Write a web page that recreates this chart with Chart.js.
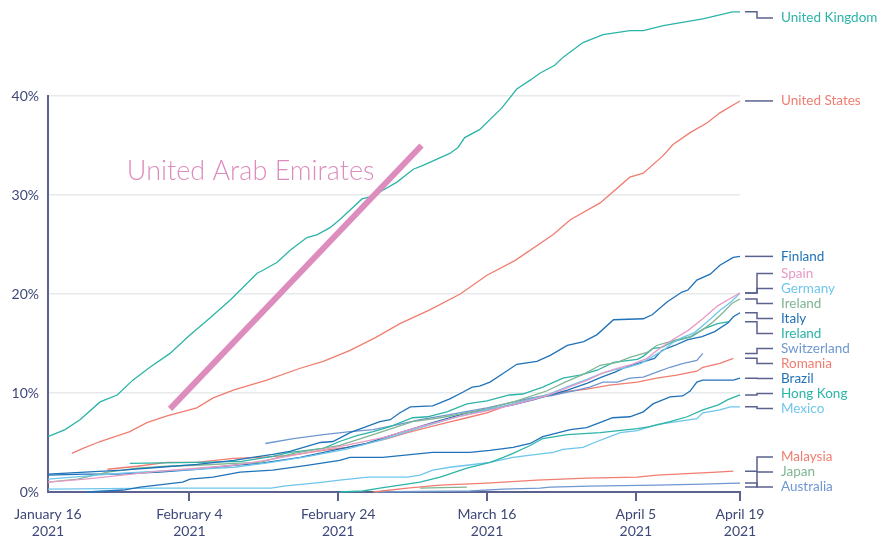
<!DOCTYPE html>
<html>
<head>
<meta charset="utf-8">
<script src="https://cdn.jsdelivr.net/npm/chart.js@4.4.1/dist/chart.umd.min.js"></script>
<style>
    html, body { margin: 0; padding: 0; background: #ffffff; }
    #wrap { width: 888px; height: 541px; position: relative; }
</style>
</head>
<body>
<div id="wrap"><canvas id="chart"></canvas></div>
<script>
// x is days since January 16 2021, y is percent of population
const tickDays = [0, 19, 39, 59, 79, 93];
const tickLabels = ['January 16', 'February 4', 'February 24', 'March 16', 'April 5', 'April 19'];
const tickYear = '2021';

const unitedKingdom = [[0,5.6],[2.3,6.3],[4.3,7.3],[7,9.1],[9.3,9.8],[11.4,11.3],[13.7,12.6],[16.4,14.0],[19,15.8],[21.8,17.6],[24.5,19.4],[28.1,22.1],[28.9,22.4],[30.8,23.2],[32.5,24.4],[34.8,25.7],[36.2,26.0],[37.9,26.7],[39.2,27.5],[42.2,29.6],[43.3,29.8],[44.6,30.3],[46.9,31.3],[49.1,32.6],[50.4,33.0],[54,34.2],[55.1,34.8],[56,35.8],[58,36.6],[61,38.8],[63,40.7],[64.8,41.6],[66.1,42.3],[68.1,43.1],[69.2,43.9],[71.9,45.4],[74.6,46.2],[78.2,46.6],[80,46.6],[82.7,47.1],[88,47.8],[92,48.5],[93,48.5]];
const unitedStates = [[3.2,3.9],[4.7,4.4],[7,5.1],[11,6.1],[13.3,7.0],[16,7.7],[20,8.5],[22.2,9.5],[24.9,10.3],[29.4,11.3],[33.9,12.5],[37,13.2],[40.6,14.3],[44,15.6],[47.3,17.0],[51.3,18.4],[55.4,20.0],[59,21.9],[62.8,23.4],[67.9,26.0],[70.2,27.5],[74.2,29.2],[78.2,31.8],[80,32.2],[82.7,34.0],[84,35.1],[86.3,36.3],[88.6,37.3],[90.3,38.3],[93,39.5]];
const finland = [[0,1.8],[5,2.0],[10,2.2],[15,2.5],[20,2.8],[25,3.2],[27.5,3.5],[30.2,3.8],[32.5,4.1],[34.8,4.6],[36.6,5.0],[38.3,5.1],[40.6,6.0],[44.6,7.1],[46,7.3],[47.3,8.0],[48.7,8.6],[51.7,8.7],[54,9.4],[55.8,10.1],[57,10.6],[58,10.7],[59.4,11.1],[61.2,12.0],[63,12.9],[65.7,13.2],[67.5,13.8],[69.8,14.8],[72,15.2],[73.8,15.9],[76,17.4],[80,17.5],[81.2,17.9],[83.2,19.2],[85.2,20.2],[86,20.4],[87.2,21.4],[89,22.0],[90.3,22.9],[92.1,23.7],[93,23.8]];
const spain = [[0,1.0],[5,1.3],[10,1.7],[15,2.1],[20,2.4],[25,2.7],[30,3.3],[35,4.0],[40,4.7],[45,5.5],[50,6.6],[55,7.6],[59,8.2],[63,8.9],[67,9.7],[70,10.6],[72.5,11.3],[74.5,12.0],[76.5,12.5],[78.5,12.9],[80.5,13.5],[82,14.4],[84,15.4],[86,16.3],[88,17.5],[90,18.8],[91.8,19.6],[93,20.1]];
const germany = [[0,1.3],[5,1.6],[10,1.9],[15,2.1],[20,2.3],[25,2.5],[30,3.0],[35,3.6],[40,4.3],[45,5.3],[50,6.5],[55,7.6],[59,8.3],[63,9.0],[67,9.8],[70,10.7],[72.5,11.4],[74.5,12.0],[76.5,12.4],[77.9,12.6],[79.7,13.0],[81.3,13.7],[82.7,14.3],[83.8,15.0],[85.2,15.6],[86.9,16.1],[88.6,17.2],[90.4,18.4],[91.8,19.2],[93,20.1]];
const irelandGreen = [[0,1.0],[4,1.3],[8,2.0],[12,2.4],[16,2.6],[20,2.7],[25,2.9],[28.5,3.0],[33,3.9],[39.2,4.7],[43.7,5.8],[49,7.1],[52.7,7.5],[57,8.1],[59,8.4],[63,9.2],[67,10.2],[69.5,11.1],[72,11.9],[74.2,12.8],[76.5,13.1],[78.2,13.6],[80.5,14.1],[81.8,14.8],[84.5,15.4],[86.3,15.7],[88,16.4],[89.4,17.2],[90.7,18.1],[92,19.1],[93,19.5]];
const italy = [[0,1.7],[5,1.8],[9.3,1.8],[15,2.0],[20,2.3],[25,2.7],[28.5,2.9],[33.9,3.5],[38.3,4.2],[42.8,4.9],[47.3,6.0],[51.7,7.0],[56.3,8.0],[59,8.3],[62.5,8.8],[65.2,9.3],[69.8,10.3],[72.5,11.0],[74.4,11.6],[76.2,12.1],[77.9,12.7],[79.3,13.0],[81.5,13.5],[82.5,14.3],[84.2,14.8],[86,15.4],[87.9,15.7],[89.6,16.2],[91.4,17.1],[92.1,17.7],[93,18.1]];
const irelandTeal = [[11,2.9],[20,3.0],[26,3.1],[30.2,3.6],[32.5,4.0],[34.8,4.2],[37,4.4],[39.2,5.1],[41.5,5.7],[43.7,6.1],[46,6.6],[49,7.5],[51,7.6],[53.6,8.1],[56.3,8.9],[59,9.2],[62,9.8],[63.8,9.9],[66.5,10.6],[69.2,11.5],[71.5,11.8],[73.8,12.3],[76,13.1],[79.2,13.4],[80,13.7],[81.3,14.5],[82.5,14.6],[84,15.2],[86.5,15.7],[88.2,16.5],[90,17.0],[91.5,17.2]];
const switzerland = [[29.2,4.9],[33,5.4],[37,5.8],[40.6,6.1],[43.7,6.3],[47,6.8],[50,7.3],[53,7.7],[56,8.1],[59,8.5],[62,9.0],[65,9.5],[67.5,9.7],[69.2,10.0],[71.1,10.3],[72.8,10.6],[74.6,11.1],[76.5,11.1],[78.2,11.5],[80,11.6],[81.8,12.1],[83.6,12.6],[85.4,13.0],[87.2,13.3],[88,14.0]];
const romania = [[8,2.3],[12,2.6],[16,3.0],[20,3.0],[24.9,3.4],[28.5,3.5],[32.5,3.7],[37,4.2],[40.2,4.5],[42.8,4.9],[45.6,5.4],[48.3,6.0],[50.9,6.5],[53.6,7.0],[56.3,7.5],[59,8.0],[61.2,8.6],[65.7,9.6],[69.2,10.1],[72.4,10.4],[75.5,10.8],[79.2,11.1],[81.8,11.5],[84.5,11.8],[87.2,12.2],[88,12.6],[90.3,13.0],[92.1,13.5]];
const brazil = [[5.2,0],[10.1,0.2],[12.4,0.5],[18.1,1.0],[19.1,1.3],[22.2,1.5],[25.8,2.0],[30.2,2.2],[34.8,2.7],[39.2,3.2],[40.6,3.5],[45,3.5],[49,3.8],[51.7,4.0],[56.7,4.0],[59.4,4.2],[62.5,4.5],[64.8,4.9],[66.5,5.6],[70.2,6.3],[72.4,6.5],[73.8,6.9],[75.9,7.5],[78.2,7.6],[80,8.1],[81.3,8.9],[83.6,9.6],[85.3,9.7],[86.3,10.2],[87.2,11.1],[88,11.3],[92.1,11.3],[93,11.5]];
const hongKong = [[39.2,0],[42.3,0.1],[44.6,0.4],[47.3,0.7],[50,1.0],[52.7,1.5],[56.3,2.4],[59.4,3.0],[61.2,3.5],[62.5,3.9],[64.8,4.7],[66.5,5.4],[69.8,5.8],[74.2,6.0],[79.2,6.4],[80.9,6.6],[83.6,7.1],[85.9,7.6],[88,8.3],[90.1,8.8],[91.3,9.3],[93,9.8]];
const mexico = [[0,0.3],[15,0.4],[30,0.4],[31.7,0.6],[37,1.0],[39.2,1.2],[43,1.5],[48.3,1.5],[50,1.7],[51.7,2.2],[54,2.5],[56.3,2.7],[59.4,3.0],[62.5,3.5],[65.7,3.8],[67.9,4.0],[69.2,4.3],[71.9,4.5],[73.8,5.1],[75.5,5.6],[76.9,6.0],[79.2,6.2],[81.8,6.8],[84.5,7.1],[87.2,7.4],[88,8.0],[90.3,8.3],[91.7,8.6],[93,8.6]];
const malaysia = [[43.7,0],[48.3,0.4],[52.7,0.7],[59,0.9],[65.7,1.2],[72.4,1.4],[79.2,1.5],[81.8,1.7],[87.2,1.9],[89.9,2.0],[92.1,2.1]];
const japan = [[50,0.4],[53,0.45],[56.3,0.5]];
const australia = [[44,0],[50,0.05],[56.7,0.1],[61.2,0.3],[66.1,0.4],[67.5,0.5],[72.8,0.6],[81.8,0.7],[88,0.8],[92.6,0.9],[93,0.9]];
const unitedArabEmirates = [[16.4,8.4],[50.2,35.0]];

const seriesNames = ['United Kingdom', 'United States', 'Finland', 'Spain', 'Germany', 'Ireland', 'Italy', 'Ireland',
    'Switzerland', 'Romania', 'Brazil', 'Hong Kong', 'Mexico', 'Malaysia', 'Japan', 'Australia'];
const seriesData = [unitedKingdom, unitedStates, finland, spain, germany, irelandGreen, italy, irelandTeal,
    switzerland, romania, brazil, hongKong, mexico, malaysia, japan, australia];
const seriesColors = ['#2cb4a8', '#f07d70', '#1f72b8', '#e79ac6', '#6ec6ec', '#7fb592', '#1f72b8', '#2cb4a8',
    '#6f97d0', '#f07d70', '#1f72b8', '#2cb4a8', '#6ec6ec', '#f07d70', '#7fb592', '#6f97d0'];

const axisText = '#3e4878';
const axisLine = '#5b628f';
const uaeColor = '#dd8dbd';

const toPoints = arr => arr.map(p => ({ x: p[0], y: p[1] }));

const datasets = [{
    label: 'United Arab Emirates',
    data: toPoints(unitedArabEmirates),
    borderColor: uaeColor,
    borderWidth: 6,
    borderCapStyle: 'butt',
    pointRadius: 0,
    clip: false
}];
seriesData.forEach((d, i) => {
    datasets.push({
        label: seriesNames[i],
        data: toPoints(d),
        borderColor: seriesColors[i],
        borderWidth: 1.3,
        pointRadius: 0,
        tension: 0,
        clip: false
    });
});

// Stack overlapping end labels into centred groups
function placeLabels(anchors, gap, top, bottom) {
    let groups = anchors.map(a => ({ anchors: [a] }));
    const layout = g => {
        const n = g.anchors.length;
        const mean = g.anchors.reduce((s, v) => s + v, 0) / n;
        let first = mean - (n - 1) * gap / 2;
        first = Math.max(top, Math.min(first, bottom - (n - 1) * gap));
        g.first = first;
        g.last = first + (n - 1) * gap;
    };
    groups.forEach(layout);
    let merged = true;
    while (merged) {
        merged = false;
        for (let i = 0; i < groups.length - 1; i++) {
            if (groups[i].last + gap > groups[i + 1].first) {
                groups[i].anchors = groups[i].anchors.concat(groups[i + 1].anchors);
                groups.splice(i + 1, 1);
                layout(groups[i]);
                merged = true;
                break;
            }
        }
    }
    const out = [];
    groups.forEach(g => g.anchors.forEach((a, k) => out.push(g.first + k * gap)));
    return out;
}

const endLabels = {
    id: 'endLabels',
    afterDatasetsDraw(chart) {
        const { ctx, scales: { x, y } } = chart;
        const anchors = seriesData.map(d => y.getPixelForValue(d[d.length - 1][1]));
        const spots = placeLabels(anchors, 15, 18, 487);
        const x0 = x.getPixelForValue(93) + 5;

        ctx.save();
        ctx.strokeStyle = axisLine;
        ctx.lineWidth = 1.5;
        ctx.font = '13.5px Lato';
        ctx.textBaseline = 'middle';
        ctx.textAlign = 'left';
        anchors.forEach((a, i) => {
            ctx.beginPath();
            ctx.moveTo(x0, a);
            ctx.lineTo(x0 + 12, a);
            ctx.lineTo(x0 + 12, spots[i]);
            ctx.lineTo(x0 + 28, spots[i]);
            ctx.stroke();
            ctx.fillStyle = seriesColors[i];
            ctx.fillText(seriesNames[i], x0 + 36, spots[i]);
        });

        // annotation text for the UAE line
        ctx.font = '300 27px Lato';
        ctx.fillStyle = uaeColor;
        ctx.textBaseline = 'alphabetic';
        ctx.fillText('United Arab Emirates', x.getPixelForValue(10.6), y.getPixelForValue(31.5));
        ctx.restore();
    }
};

new Chart(document.getElementById('chart'), {
    type: 'line',
    data: { datasets: datasets },
    options: {
        responsive: true,
        maintainAspectRatio: false,
        animation: false,
        layout: { padding: { top: 96, right: 148, left: 0, bottom: 0 } },
        plugins: {
            legend: { display: false },
            tooltip: { enabled: false }
        },
        scales: {
            x: {
                type: 'linear',
                min: 0,
                max: 93,
                afterBuildTicks: axis => { axis.ticks = tickDays.map(v => ({ value: v })); },
                afterFit: axis => { axis.height = 49; },
                border: { display: true, color: axisLine, width: 2 },
                grid: {
                    drawOnChartArea: false,
                    drawTicks: true,
                    tickLength: 9,
                    lineWidth: 2,
                    color: c => c.index === 0 ? 'rgba(0,0,0,0)' : axisLine
                },
                ticks: {
                    autoSkip: false,
                    maxRotation: 0,
                    padding: 5,
                    color: axisText,
                    font: { family: 'Lato', size: 14, lineHeight: 1.2 },
                    callback: function (value) {
                        const i = tickDays.indexOf(value);
                        return i < 0 ? '' : [tickLabels[i], tickYear];
                    }
                }
            },
            y: {
                min: 0,
                max: 40,
                afterFit: axis => { axis.width = 48; },
                border: { display: true, color: axisLine, width: 2 },
                grid: { drawTicks: false, color: '#e7eaeb', lineWidth: 1.5 },
                ticks: {
                    stepSize: 10,
                    padding: 9,
                    color: axisText,
                    font: { family: 'Lato', size: 14 },
                    callback: v => v + '%'
                }
            }
        }
    },
    plugins: [endLabels]
});
</script>
</body>
</html>
